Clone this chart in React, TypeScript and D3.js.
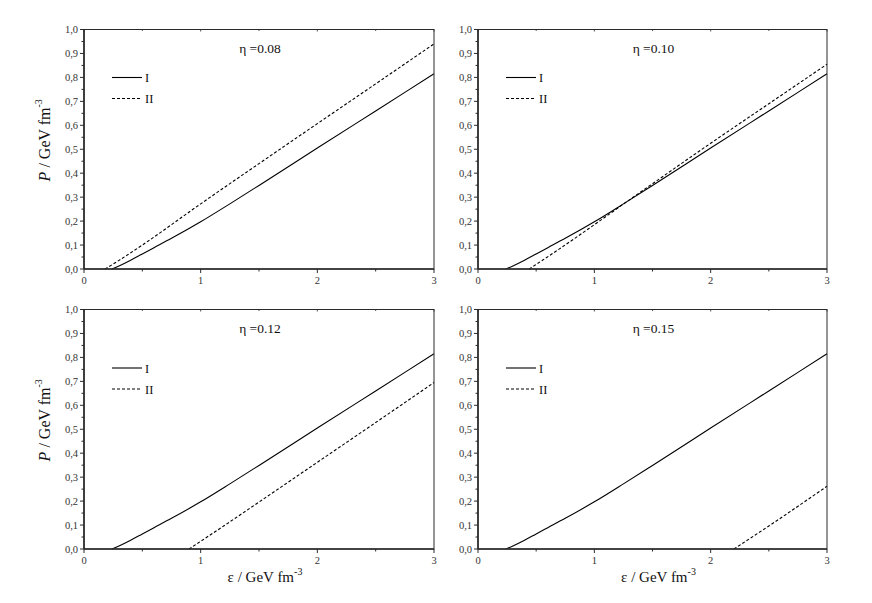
import React from "react";
import * as d3 from "d3";

const yTicks = [0, 0.1, 0.2, 0.3, 0.4, 0.5, 0.6, 0.7, 0.8, 0.9, 1.0];
const xTicks = [0, 1, 2, 3];
const etas = ["0.08", "0.10", "0.12", "0.15"];

const curveIEps = [0.24, 0.3, 0.4, 0.5, 0.6, 0.75, 1.0, 1.25, 1.5, 2.0, 2.5, 3.0];
const curveIP = [0, 0.013, 0.037, 0.063, 0.089, 0.128, 0.197, 0.272, 0.349, 0.505, 0.66, 0.815];

const curveII_008_eps = [0.18, 0.3, 0.5, 1.0, 1.5, 2.0, 2.5, 3.0];
const curveII_008_P = [0, 0.036, 0.1, 0.272, 0.44, 0.607, 0.773, 0.94];
const curveII_010_eps = [0.44, 0.7, 1.0, 1.25, 1.5, 2.0, 2.5, 3.0];
const curveII_010_P = [0, 0.084, 0.185, 0.271, 0.356, 0.525, 0.69, 0.855];
const curveII_012_eps = [0.9, 1.2, 1.5, 2.0, 2.5, 3.0];
const curveII_012_P = [0, 0.097, 0.196, 0.362, 0.528, 0.695];
const curveII_015_eps = [2.2, 2.5, 3.0];
const curveII_015_P = [0, 0.096, 0.262];

const curveIIeps = [curveII_008_eps, curveII_010_eps, curveII_012_eps, curveII_015_eps];
const curveIIP = [curveII_008_P, curveII_010_P, curveII_012_P, curveII_015_P];

const panels = [
  { x0: 84, x1: 434, y0: 29.5, y1: 269, leg: 48, ylab: true, xlab: false },
  { x0: 478, x1: 827, y0: 29.5, y1: 269, leg: 48, ylab: false, xlab: false },
  { x0: 84, x1: 434, y0: 309.5, y1: 549, leg: 58.5, ylab: true, xlab: true },
  { x0: 478, x1: 827, y0: 309.5, y1: 549, leg: 58.5, ylab: false, xlab: true },
];

const AX = "#2a2a2a";
const FONT = "'Liberation Serif', 'Times New Roman', Times, serif";

function Panel({ p, i }: { p: any; i: number }) {
  const x = d3.scaleLinear().domain([0, 3]).range([p.x0, p.x1]);
  const y = d3.scaleLinear().domain([0, 1]).range([p.y1, p.y0]);
  const line = d3
    .line<[number, number]>()
    .x((d) => x(d[0]))
    .y((d) => y(d[1]))
    .curve(d3.curveMonotoneX);
  const dI = line(curveIEps.map((e, k) => [e, curveIP[k]] as [number, number])) || "";
  const dII = line(curveIIeps[i].map((e, k) => [e, curveIIP[i][k]] as [number, number])) || "";
  const minorY = d3.range(0.05, 1, 0.1);
  const minorX = [0.5, 1.5, 2.5];
  const cx = (p.x0 + p.x1) / 2;
  const cy = (p.y0 + p.y1) / 2;
  return (
    <g>
      <path d={dI} fill="none" stroke="#000" strokeWidth={1.1} />
      <path d={dII} fill="none" stroke="#000" strokeWidth={1.1} strokeDasharray="3,2" />
      <rect x={p.x0} y={p.y0} width={p.x1 - p.x0} height={p.y1 - p.y0} fill="none" stroke={AX} strokeWidth={1} />
      <line x1={p.x0} x2={p.x0} y1={p.y0} y2={p.y1} stroke={AX} strokeWidth={1.6} />
      <line x1={p.x0} x2={p.x1} y1={p.y1} y2={p.y1} stroke={AX} strokeWidth={1.6} />
      {yTicks.map((t) => (
        <g key={"y" + t}>
          <line x1={p.x0 - 4} x2={p.x0} y1={y(t)} y2={y(t)} stroke={AX} strokeWidth={1} />
          <text x={p.x0 - 6} y={y(t) + 3.5} fontSize={10.5} textAnchor="end" fontFamily={FONT} fill="#333">
            {t.toFixed(1).replace(".", ",")}
          </text>
        </g>
      ))}
      {minorY.map((t) => (
        <line key={"my" + t} x1={p.x0 - 2.5} x2={p.x0} y1={y(t)} y2={y(t)} stroke={AX} strokeWidth={1} />
      ))}
      {xTicks.map((t) => (
        <g key={"x" + t}>
          <line x1={x(t)} x2={x(t)} y1={p.y1} y2={p.y1 + 4} stroke={AX} strokeWidth={1} />
          <line x1={x(t)} x2={x(t)} y1={p.y0} y2={p.y0 + 2} stroke={AX} strokeWidth={0.8} />
          <text x={x(t)} y={p.y1 + 15} fontSize={10.5} textAnchor="middle" fontFamily={FONT} fill="#333">
            {t}
          </text>
        </g>
      ))}
      {minorX.map((t) => (
        <g key={"mx" + t}>
          <line x1={x(t)} x2={x(t)} y1={p.y1} y2={p.y1 + 2.5} stroke={AX} strokeWidth={1} />
          <line x1={x(t)} x2={x(t)} y1={p.y0} y2={p.y0 + 1.5} stroke={AX} strokeWidth={0.8} />
        </g>
      ))}
      <text x={cx + 1} y={p.y0 + 23} fontSize={13.5} textAnchor="middle" fontFamily={FONT} fill="#111">
        {"η =" + etas[i]}
      </text>
      <line x1={p.x0 + 28} x2={p.x0 + 58} y1={p.y0 + p.leg} y2={p.y0 + p.leg} stroke="#000" strokeWidth={1.1} />
      <text x={p.x0 + 61} y={p.y0 + p.leg + 4.5} fontSize={12.5} fontFamily={FONT} fill="#111">I</text>
      <line x1={p.x0 + 28} x2={p.x0 + 58} y1={p.y0 + p.leg + 21} y2={p.y0 + p.leg + 21} stroke="#000" strokeWidth={1.1} strokeDasharray="3,2" />
      <text x={p.x0 + 61} y={p.y0 + p.leg + 25.5} fontSize={12.5} fontFamily={FONT} fill="#111">II</text>
      {p.ylab && (
        <text
          transform={`translate(${p.x0 - 34},${cy - 9}) rotate(-90)`}
          fontSize={16}
          textAnchor="middle"
          fontFamily={FONT}
          fill="#111"
        >
          <tspan fontStyle="italic">P</tspan>
          <tspan> / GeV fm</tspan>
          <tspan fontSize={10} dy={-8}>-3</tspan>
        </text>
      )}
      {p.xlab && (
        <text x={cx + 6} y={582} fontSize={15} textAnchor="middle" fontFamily={FONT} fill="#111">
          <tspan>ε / GeV fm</tspan>
          <tspan fontSize={10} dy={-7}>-3</tspan>
        </text>
      )}
    </g>
  );
}

export default function App() {
  return (
    <svg width={872} height={603} style={{ position: "absolute", left: 0, top: 0, background: "#fff" }}>
      <rect x={0} y={0} width={872} height={603} fill="#fff" />
      {panels.map((p, i) => (
        <Panel key={i} p={p} i={i} />
      ))}
    </svg>
  );
}
